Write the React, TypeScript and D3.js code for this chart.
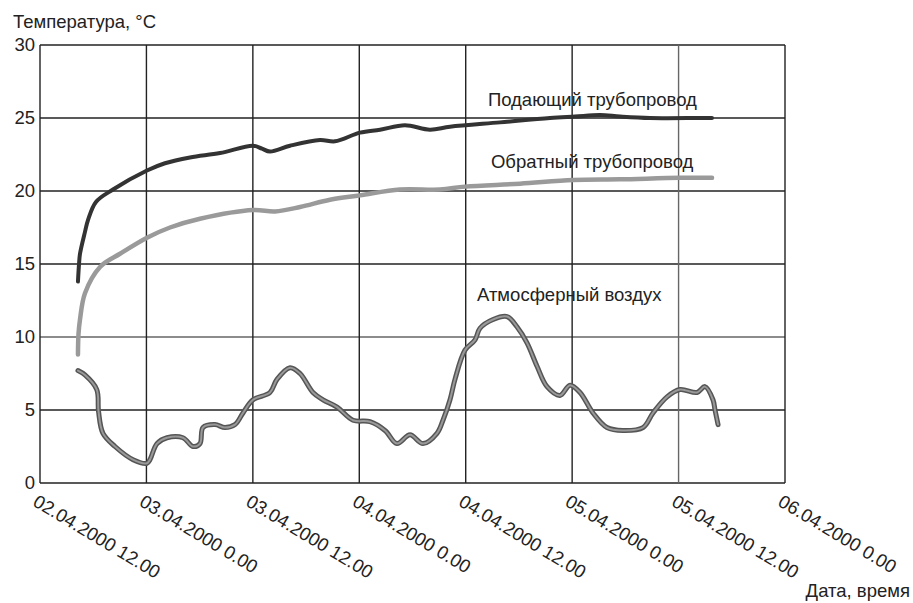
import * as d3 from "d3";

// hours since 02.04.2000 12:00
const supplyHours = [4.28, 4.4, 4.51, 5.07, 5.41, 6.31, 8.23, 12.06, 14.09, 16.91, 20.3, 24.02, 25.03, 25.93, 28.19, 31.57, 33.26, 36.08, 38.34, 41.15, 43.97, 46.23, 51.87, 57.5, 60.32, 63.14, 65.4, 68.78, 74.42, 75.77];
const supplyTemps = [13.8, 15.0, 15.7, 17.2, 18.0, 19.25, 20.1, 21.4, 21.9, 22.3, 22.6, 23.1, 22.9, 22.7, 23.1, 23.5, 23.4, 24.0, 24.2, 24.5, 24.2, 24.4, 24.7, 25.0, 25.1, 25.2, 25.1, 25.0, 25.0, 25.0];

const returnHours = [4.28, 4.34, 4.51, 5.07, 6.77, 9.02, 12.06, 14.66, 18.04, 24.02, 26.5, 29.32, 32.7, 36.08, 40.59, 45.1, 47.92, 54.12, 60.1, 65.4, 72.16, 75.77];
const returnTemps = [8.8, 10.2, 11.2, 13.0, 14.8, 15.7, 16.8, 17.5, 18.1, 18.7, 18.6, 18.9, 19.4, 19.7, 20.1, 20.1, 20.3, 20.5, 20.75, 20.8, 20.9, 20.9];

const airHours = [4.28, 5.07, 6.4, 6.6, 7.1, 8.46, 10.49, 12.06, 12.4, 13.19, 14.32, 16.12, 17.25, 18.04, 18.38, 19.73, 20.86, 21.99, 22.89, 24.02, 25.93, 26.72, 28.19, 29.32, 30.78, 31.91, 33.49, 35.29, 37.21, 38.9, 40.25, 41.72, 43.18, 44.76, 45.44, 46.23, 46.79, 47.92, 49.05, 49.61, 51.08, 52.66, 53.78, 54.91, 56.04, 57.17, 58.63, 59.76, 60.89, 62.35, 63.93, 65.73, 67.99, 69.12, 70.7, 72.16, 74.08, 74.98, 75.88, 76.11, 76.45];
const airTemps = [7.7, 7.4, 6.4, 4.9, 3.4, 2.5, 1.6, 1.35, 1.6, 2.7, 3.1, 3.1, 2.5, 2.7, 3.8, 4.0, 3.8, 4.0, 4.8, 5.7, 6.2, 7.1, 7.9, 7.5, 6.2, 5.7, 5.2, 4.3, 4.2, 3.6, 2.7, 3.3, 2.7, 3.4, 4.3, 5.7, 7.1, 9.1, 9.8, 10.6, 11.2, 11.4, 10.7, 9.6, 8.0, 6.6, 6.0, 6.7, 6.2, 4.8, 3.8, 3.6, 3.8, 4.8, 5.9, 6.4, 6.2, 6.6, 5.7, 5.0, 4.0];

const yTicks = [0, 5, 10, 15, 20, 25, 30];
const seriesLabels = ["Подающий трубопровод", "Обратный трубопровод", "Атмосферный воздух"];

const start = new Date(2000, 3, 2, 12);
const end = new Date(2000, 3, 6, 0);
const toDate = (h: number) => new Date(start.getTime() + h * 3600 * 1000);

const width = 913;
const height = 603;
const marginLeft = 40;
const marginRight = 128;
const marginTop = 45;
const marginBottom = 120;

const font = "'Liberation Sans', Arial, sans-serif";

export default function App() {
    const x = d3.scaleTime().domain([start, end]).range([marginLeft, width - marginRight]);
    const y = d3.scaleLinear().domain([0, 30]).range([height - marginBottom, marginTop]);
    const xTicks = d3.timeHour.every(12)!.range(start, new Date(end.getTime() + 1));
    const fmt = (d: Date) => `${d3.timeFormat("%d.%m.%Y")(d)} ${d.getHours()}.00`;

    const line = d3
        .line<[number, number]>()
        .x(d => x(toDate(d[0])))
        .y(d => y(d[1]))
        .curve(d3.curveCatmullRom);

    const supply = supplyHours.map((h, i) => [h, supplyTemps[i]] as [number, number]);
    const ret = returnHours.map((h, i) => [h, returnTemps[i]] as [number, number]);
    const air = airHours.map((h, i) => [h, airTemps[i]] as [number, number]);

    const x0 = marginLeft;
    const x1 = width - marginRight;
    const y0 = height - marginBottom;

    return (
        <>
            <style>{`body{margin:0}`}</style>
            <svg width={width} height={height} style={{ display: "block", fontFamily: font }}>
                <rect width={width} height={height} fill="white" />
                <g stroke="#222" strokeWidth="1.4">
                    {yTicks.map(t => (
                        <line key={t} x1={x0} x2={x1} y1={y(t)} y2={y(t)} stroke={t === 10 ? "#666" : "#222"} />
                    ))}
                    {xTicks.map((t, i) => (
                        <line key={i} x1={x(t)} x2={x(t)} y1={marginTop} y2={y0} stroke={i === 6 ? "#666" : "#222"} />
                    ))}
                </g>
                <g fill="#222" fontSize="18.5">
                    {yTicks.map(t => (
                        <text key={t} x={35} y={y(t)} textAnchor="end" dy="0.35em">{t}</text>
                    ))}
                    {xTicks.map((t, i) => (
                        <text key={i} transform={`translate(${x(t) - 1},${y0 + 10}) rotate(31)`} dy="0.75em">{fmt(t)}</text>
                    ))}
                    <text x={13} y={28}>Температура, °C</text>
                    <text x={910} y={597} textAnchor="end">Дата, время</text>
                    <text x={x(toDate(50.5))} y={106}>{seriesLabels[0]}</text>
                    <text x={x(toDate(50.85))} y={168}>{seriesLabels[1]}</text>
                    <text x={x(toDate(49.27))} y={301}>{seriesLabels[2]}</text>
                </g>
                <path d={String(line(ret))} fill="none" stroke="#9a9a9a" strokeWidth="4.5" strokeLinecap="round" />
                <path d={String(line(supply))} fill="none" stroke="#333" strokeWidth="4" strokeLinecap="round" />
                <path d={String(line(air))} fill="none" stroke="#555" strokeWidth="5" strokeLinecap="round" strokeLinejoin="round" />
                <path d={String(line(air))} fill="none" stroke="#999" strokeWidth="2" strokeLinecap="round" strokeLinejoin="round" />
            </svg>
        </>
    );
}
